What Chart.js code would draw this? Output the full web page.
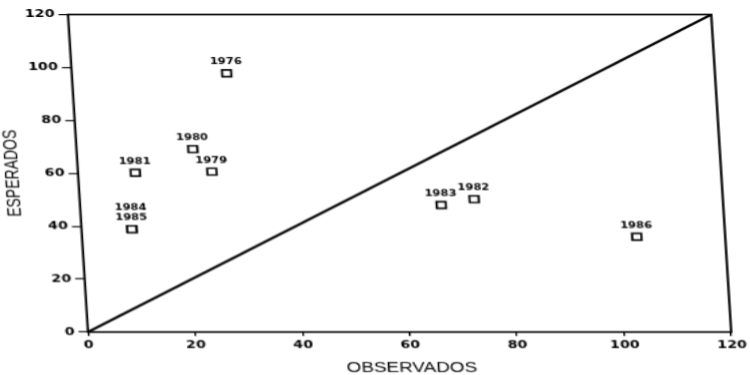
<!DOCTYPE html>
<html>
<head>
<meta charset="utf-8">
<script src="https://cdn.jsdelivr.net/npm/chart.js@4/dist/chart.umd.min.js"></script>
<style>
  html, body { margin: 0; padding: 0; background: #fff; overflow: hidden; }
  body { width: 750px; height: 375px; position: relative; }
  /* plotter-style output: wide lettering and a slight lean of the frame */
  #c {
    position: absolute; left: 0; top: 0;
    transform-origin: 0 332px;
    transform: skewX(3.6deg) scaleX(1.349);
  }
</style>
</head>
<body>
<canvas id="c" width="556" height="375"></canvas>
<script>
// Year of each point, observed value (x) and expected value (y)
const years       = ['1976', '1979', '1980', '1981', '1982', '1983', '1984', '1985', '1986'];
const observados  = [28.9, 25.0, 21.7, 10.7, 73.6, 67.4, 9.4, 9.4, 103.5];
const esperados   = [97.8, 60.6, 69.1, 60.2, 50.2, 48.0, 38.9, 38.9, 36.0];

// Axis range and tick labels (same for both axes)
const axisMin = 0;
const axisMax = 120;
const tickValues = [0, 20, 40, 60, 80, 100, 120];
const tickLabels = ['0', '20', '40', '60', '80', '100', '120'];

const points = years.map((yr, i) => ({ x: observados[i], y: esperados[i], year: yr }));
const identityLine = [{ x: axisMin, y: axisMin }, { x: axisMax, y: axisMax }];

const tickFont = { family: 'DejaVu Sans', weight: 'bold', size: 10.5 };
const titleFont = { family: 'Liberation Sans', weight: 'normal', size: 14, lineHeight: 1.0 };

// Closed frame around the plotting area
const framePlugin = {
  id: 'frame',
  beforeDatasetsDraw(chart) {
    const { ctx, chartArea: a } = chart;
    ctx.save();
    ctx.strokeStyle = '#000';
    ctx.lineWidth = 1.7;
    ctx.strokeRect(a.left, a.top, a.right - a.left, a.bottom - a.top);
    ctx.restore();
  }
};

// Year labels above each square; coincident points get stacked labels
const yearLabelPlugin = {
  id: 'yearLabels',
  afterDatasetsDraw(chart) {
    const meta = chart.getDatasetMeta(1);
    const { ctx } = chart;
    ctx.save();
    ctx.fillStyle = '#000';
    ctx.font = 'bold 8.5px "DejaVu Sans"';
    ctx.textAlign = 'center';
    ctx.textBaseline = 'middle';
    meta.data.forEach((el, i) => {
      let stack = 0;
      for (let j = i + 1; j < points.length; j++) {
        if (points[j].x === points[i].x && points[j].y === points[i].y) stack++;
      }
      ctx.fillText(points[i].year, el.x, el.y - 11 - stack * 10.5);
    });
    ctx.restore();
  }
};

const axisBase = (title, tickLen, pad) => ({
  type: 'linear',
  min: axisMin,
  max: axisMax,
  afterBuildTicks: (s) => { s.ticks = tickValues.map(v => ({ value: v })); },
  ticks: {
    color: '#000',
    font: tickFont,
    padding: pad,
    callback: (v) => tickLabels[tickValues.indexOf(v)]
  },
  grid: {
    display: true,
    drawOnChartArea: false,
    drawTicks: true,
    tickLength: tickLen,
    color: '#000',
    lineWidth: 1.2
  },
  border: { display: false },
  title: {
    display: true,
    text: title,
    color: '#000',
    font: titleFont,
    padding: { top: 0, bottom: 0 }
  }
});

const xScale = axisBase('OBSERVADOS', 4, 3);
xScale.position = 'bottom';
xScale.afterFit = (s) => { s.height = 43; };

const yScale = axisBase('ESPERADOS', 7, 3);
yScale.position = 'left';
yScale.title.font = { family: 'Liberation Sans', weight: 'normal', size: 14 };
yScale.title.padding = { top: 8.5, bottom: 0 };
yScale.afterFit = (s) => { s.width = 65.2; };

new Chart(document.getElementById('c'), {
  data: {
    datasets: [
      {
        type: 'line',
        data: identityLine,
        borderColor: '#000',
        borderWidth: 2.2,
        pointRadius: 0,
        fill: false
      },
      {
        type: 'scatter',
        data: points,
        pointStyle: 'rect',
        pointRadius: 4.8,
        pointBackgroundColor: '#fff',
        pointBorderColor: '#000',
        pointBorderWidth: 1.6
      }
    ]
  },
  options: {
    responsive: false,
    animation: false,
    devicePixelRatio: 1,
    layout: { padding: { left: 0, right: 11, top: 14.5, bottom: 0 } },
    plugins: {
      legend: { display: false },
      tooltip: { enabled: false }
    },
    scales: { x: xScale, y: yScale }
  },
  plugins: [framePlugin, yearLabelPlugin]
});
</script>
</body>
</html>
